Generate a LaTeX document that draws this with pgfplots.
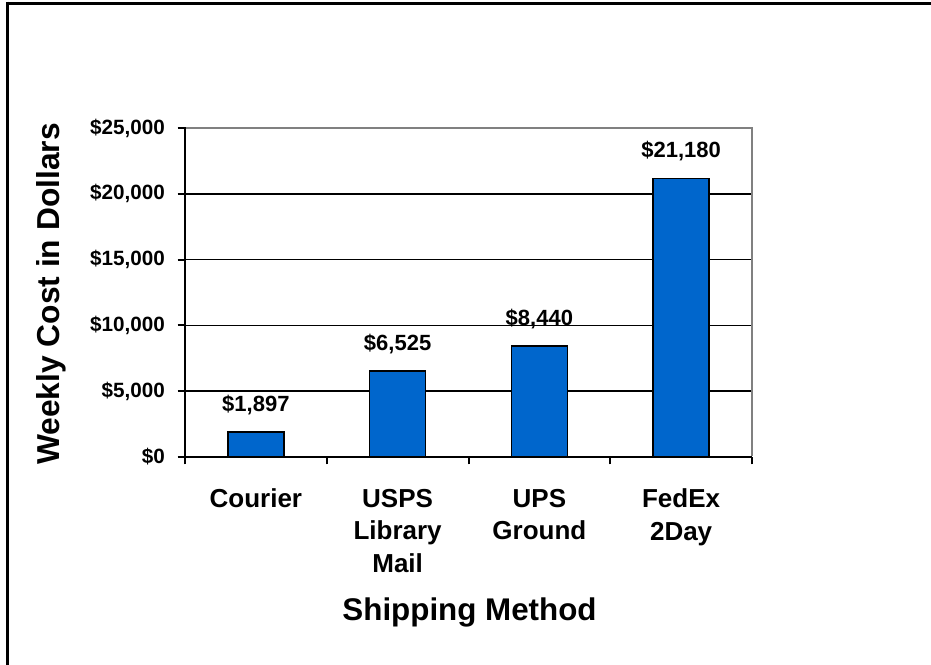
\documentclass[border=0pt]{standalone}
\usepackage{pgfplots}
\pgfplotsset{compat=1.18}
\usepackage{fontspec}
\setmainfont{Liberation Sans}
\definecolor{barblue}{HTML}{0066CC}
\definecolor{bordergray}{HTML}{808080}
\begin{document}
\begin{tikzpicture}
\useasboundingbox (0,0) rectangle (698.25pt,-498pt);
\draw[line width=2.25pt] (5.775pt,-2.25pt) -- (700pt,-2.25pt);
\draw[line width=2.25pt] (5.775pt,-1.125pt) -- (5.775pt,-500pt);
\begin{axis}[
  name=ax,
  at={(138.75pt,-342.75pt)}, anchor=south west,
  scale only axis, width=425.25pt, height=246.75pt,
  xmin=-0.5, xmax=3.5, ymin=0, ymax=25000,
  scaled y ticks=false,
  axis x line*=bottom, axis y line*=left,
  axis line style={black, line width=1.5pt, -},
  xtick={-0.5,0.5,1.5,2.5,3.5},
  x tick label as interval,
  xticklabels={Courier,{USPS\\Library\\Mail},{UPS\\Ground},{FedEx\\2Day}},
  ytick={0,5000,10000,15000,20000,25000},
  yticklabels={{\$0},{\$5,000},{\$10,000},{\$15,000},{\$20,000},{\$25,000}},
  tick align=outside,
  major tick length=5.5pt,
  tick style={black, line width=1.5pt},
  ymajorgrids, grid style={black, line width=1.1pt},
  yticklabel style={font=\fontsize{15.5}{18}\selectfont\bfseries, xshift=-6pt},
  xticklabel style={font=\fontsize{19.5}{24.5}\selectfont\bfseries, align=center, anchor=north, yshift=-15pt},
  ylabel={Weekly Cost in Dollars},
  ylabel style={at={(axis description cs:-0.2363,0.4954)}, anchor=center, font=\fontsize{23.8}{28}\selectfont\bfseries},
  xlabel={Shipping Method},
  xlabel style={at={(axis description cs:0.5018,-0.471)}, anchor=center, font=\fontsize{23.5}{28}\selectfont\bfseries},
]
\addplot[ybar, bar width=42pt, fill=barblue, draw=black, line width=1.1pt,
  point meta=explicit symbolic, nodes near coords,
  nodes near coords style={font=\fontsize{16.5}{19}\selectfont\bfseries, anchor=south, inner sep=0pt, yshift=12.5pt}]
  coordinates {(0,1897)[\$1,897] (1,6525)[\$6,525] (2,8440)[\$8,440] (3,21180)[\$21,180]};
\end{axis}
\draw[bordergray, line width=1.1pt] ([xshift=0.75pt]ax.north west) -- (ax.north east) -- ([yshift=0.75pt]ax.south east);
\end{tikzpicture}
\end{document}
